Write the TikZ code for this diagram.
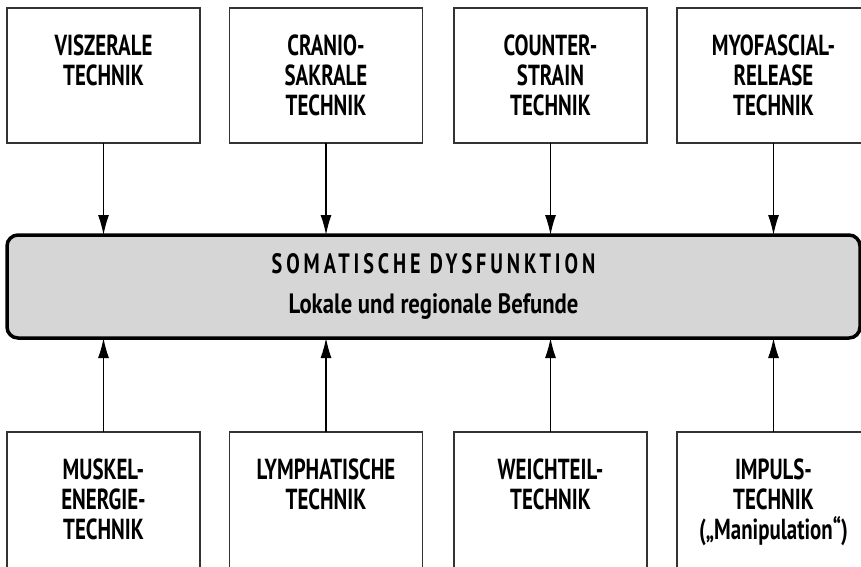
\documentclass[tikz,border=0pt]{standalone}
\usepackage{fontspec}
\setmainfont{PT Sans}[FakeStretch=0.72]
\newfontfamily\headfont{PT Sans}[FakeStretch=0.72, LetterSpace=14]
\newfontfamily\subfont{PT Sans}[FakeStretch=0.81]
\usetikzlibrary{arrows.meta}
\tikzset{
  tbox/.style={draw=black!80, line width=1.4pt, fill=white, inner sep=0pt, outer sep=0pt},
  cbox/.style={draw=black, line width=3.5pt, fill=black!16, rounded corners=11pt,
    minimum width=853pt, minimum height=103pt, inner sep=0pt, outer sep=0pt,
    align=center, font={\fontsize{28}{40}\selectfont\bfseries}},
  arr/.style={line width=1.3pt, -{Latex[length=20pt,width=11pt]}},
}
\newcommand{\boxtext}[2]{\parbox[c][#1][t]{193pt}{\centering\fontsize{29}{30}\selectfont\bfseries\vspace*{27pt}#2\par}}
\begin{document}
\begin{tikzpicture}[x=1pt,y=-1pt]
\useasboundingbox (0,0) rectangle (861,566);
% top boxes
\node[tbox] (t1) at (103.5,75.5) {\boxtext{135pt}{VISZERALE\\TECHNIK}};
\node[tbox] (t2) at (326,75.5) {\boxtext{135pt}{CRANIO-\\SAKRALE\\TECHNIK}};
\node[tbox] (t3) at (550.5,75.5) {\boxtext{135pt}{COUNTER-\\STRAIN\\TECHNIK}};
\node[tbox] (t4) at (773.5,75.5) {\boxtext{135pt}{MYOFASCIAL-\\RELEASE\\TECHNIK}};
% central box
\node[cbox] (c) at (433.5,286.5) {%
  {\headfont SOMATISCHE DYSFUNKTION}\\
  {\subfont Lokale und regionale Befunde}};
% bottom boxes
\node[tbox] (b1) at (103.5,502) {\boxtext{140pt}{MUSKEL-\\ENERGIE-\\TECHNIK}};
\node[tbox] (b2) at (326,502) {\boxtext{140pt}{LYMPHATISCHE\\TECHNIK}};
\node[tbox] (b3) at (550.5,502) {\boxtext{140pt}{WEICHTEIL-\\TECHNIK}};
\node[tbox] (b4) at (773.5,502) {\boxtext{140pt}{IMPULS-\\TECHNIK\\(„Manipulation“)}};
% arrows
\foreach \n in {1,2,3,4}{
  \draw[arr] (t\n.south) -- (t\n.south |- c.north);
  \draw[arr] (b\n.north) -- (b\n.north |- c.south);
}
\end{tikzpicture}
\end{document}
